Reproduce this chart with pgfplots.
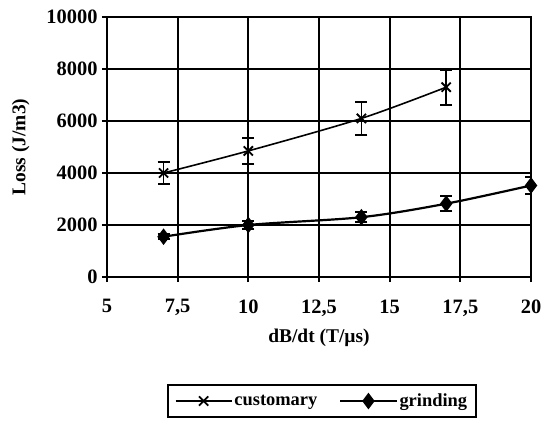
\documentclass[border=0pt]{standalone}
\usepackage{fontspec}
\setmainfont{Liberation Serif}
\usepackage{pgfplots}
\pgfplotsset{compat=1.18}
\begin{document}
\begin{tikzpicture}[x=1bp,y=1bp]
\begin{axis}[
  scale only axis, width=424bp, height=260bp,
  xmin=5, xmax=20, ymin=0, ymax=10000,
  xtick={5,7.5,10,12.5,15,17.5,20},
  ytick={0,2000,4000,6000,8000,10000},
  grid=major,
  major grid style={black, line width=2.2bp},
  axis line style={black, line width=2.2bp},
  tick style={black, line width=2bp},
  tick align=outside, major tick length=5bp,
  xtick pos=bottom, ytick pos=left,
  scaled y ticks=false,
  /pgf/number format/assume math mode=true,
  /pgf/number format/use comma,
  /pgf/number format/1000 sep={},
  ticklabel style={font=\bfseries\fontsize{20.5}{20.5}\selectfont},
  xticklabel style={yshift=-14bp},
  yticklabel style={xshift=-1bp},
  xlabel={dB/dt (T/µs)},
  ylabel={Loss (J/m3)},
  label style={font=\bfseries\fontsize{19.5}{19.5}\selectfont},
  xlabel style={yshift=-6bp},
  ylabel style={yshift=10bp},
  legend columns=2,
  legend style={at={(0.507,-0.477)}, anchor=center, draw=black, line width=2bp,
    font=\bfseries\fontsize{18.5}{18.5}\selectfont, inner xsep=7bp, inner ysep=7bp,
    /tikz/every even column/.append style={column sep=20bp}},
  legend cell align=left,
  legend image code/.code={
    \draw[mark repeat=2,mark phase=2,#1] plot coordinates {(0bp,0bp) (28bp,0bp) (56bp,0bp)};},
]
\addplot[black, line width=1.6bp, smooth, mark=x, mark size=6.5bp,
  mark options={line width=1.8bp},
  error bars/.cd, y dir=both, y explicit, error mark options={rotate=90, mark size=6bp, line width=2bp},
  error bar style={line width=1.8bp}]
  coordinates {
  (7,4000) +- (0,420)
  (10,4850) +- (0,500)
  (14,6100) +- (0,640)
  (17,7300) +- (0,680)
  };
\addlegendentry{customary}
\addplot[black, line width=2.2bp, smooth, mark=diamond*, mark size=6.5bp,
  error bars/.cd, y dir=both, y explicit, error mark options={rotate=90, mark size=6bp, line width=2bp},
  error bar style={line width=2bp}]
  coordinates {
  (7,1550) +- (0,100)
  (10,2000) +- (0,150)
  (14,2300) +- (0,200)
  (17,2820) +- (0,300)
  (20,3520) +- (0,330)
  };
\addlegendentry{grinding}
\end{axis}
\path[use as bounding box] (-107,-144) rectangle (440,277);
\end{tikzpicture}
\end{document}
